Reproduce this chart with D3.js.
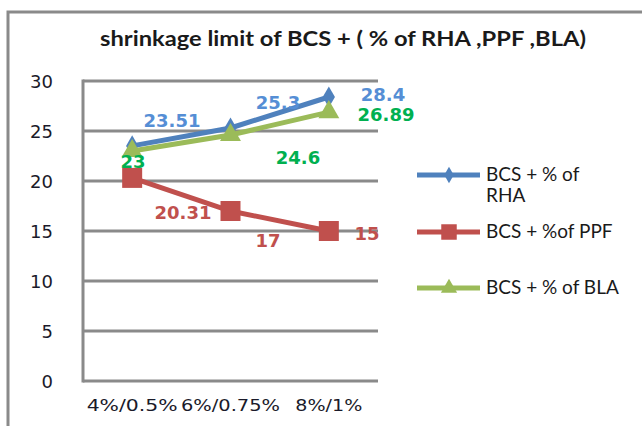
<!DOCTYPE html>
<html>
<head>
<meta charset="utf-8">
<script src="https://cdn.jsdelivr.net/npm/d3@7"></script>
<style>
  body { margin: 0; background: #fff; }
  svg { display: block; }
</style>
</head>
<body>
<svg id="chart" width="642" height="426"></svg>
<script>
// chart data
var categories = ["4%/0.5%", "6%/0.75%", "8%/1%"];
var rhaValues = [23.51, 25.3, 28.4];
var ppfValues = [20.31, 17, 15];
var blaValues = [23, 24.6, 26.89];
var yTicks = [0, 5, 10, 15, 20, 25, 30];
var seriesNames = ["BCS + % of|RHA", "BCS + %of PPF", "BCS + % of BLA"];

var svg = d3.select("#chart");

// outer frame (cut by the picture on right and bottom)
svg.append("rect")
    .attr("x", 8).attr("y", 12)
    .attr("width", 700).attr("height", 500)
    .attr("fill", "none").attr("stroke", "#8a8a8a").attr("stroke-width", 3);

svg.append("text")
    .attr("x", 100).attr("y", 46)
    .attr("textLength", 486)
    .attr("lengthAdjust", "spacingAndGlyphs")
    .attr("font-family", "Lato, sans-serif")
    .attr("font-weight", "bold")
    .attr("font-size", 20)
    .attr("fill", "#1a1a1a")
    .text("shrinkage limit of BCS + ( % of RHA ,PPF ,BLA)");

var x = d3.scaleBand().domain(categories).range([83, 378]);
var y = d3.scaleLinear().domain([0, 30]).range([381, 81]);

// gridlines
svg.append("g").selectAll("line")
    .data(yTicks)
    .enter().append("line")
    .attr("x1", 83).attr("x2", 378)
    .attr("y1", d => y(d)).attr("y2", d => y(d))
    .attr("stroke", "#8a8a8a").attr("stroke-width", 3);

svg.append("line")
    .attr("x1", 83).attr("x2", 83)
    .attr("y1", y(30) - 1.5).attr("y2", y(0) + 1.5)
    .attr("stroke", "#8a8a8a").attr("stroke-width", 3);

// y tick labels
svg.append("g").selectAll("text")
    .data(yTicks)
    .enter().append("text")
    .attr("x", 53).attr("y", d => y(d) + 7)
    .attr("text-anchor", "end")
    .attr("font-family", "DejaVu Sans, sans-serif")
    .attr("font-size", 18)
    .attr("fill", "#1a1a2a")
    .text(d => d);

// x tick labels (stretched wide like the original)
var xLabelWidths = [91, 99, 67];
svg.append("g").selectAll("text")
    .data(categories)
    .enter().append("text")
    .attr("x", d => x(d) + x.bandwidth() / 2)
    .attr("y", 411)
    .attr("text-anchor", "middle")
    .attr("textLength", (d, i) => xLabelWidths[i])
    .attr("lengthAdjust", "spacingAndGlyphs")
    .attr("font-family", "DejaVu Sans, sans-serif")
    .attr("font-size", 15)
    .attr("fill", "#1a1a2a")
    .text(d => d);

var cx = d => x(d) + x.bandwidth() / 2;

var series = [
    {values: rhaValues, color: "#4f81bd", labelColor: "#558ed5", marker: "diamond",
     labelPos: [[172, 120], [278, 102], [383, 94]]},
    {values: ppfValues, color: "#c0504d", labelColor: "#c0504d", marker: "square",
     labelPos: [[183, 212], [268, 240], [367, 233]]},
    {values: blaValues, color: "#9bbb59", labelColor: "#00b050", marker: "triangle",
     labelPos: [[133, 161], [298, 157], [386, 114]]}
];

var symbolTypes = {diamond: d3.symbolDiamond, square: d3.symbolSquare, triangle: d3.symbolTriangle};
var symbolSizes = {diamond: 130, square: 400, triangle: 190};

var line = d3.line()
    .x((d, i) => cx(categories[i]))
    .y(d => y(d));

series.forEach(function (s) {
    svg.append("path")
        .attr("d", line(s.values))
        .attr("fill", "none")
        .attr("stroke", s.color)
        .attr("stroke-width", 5);

    svg.append("g").selectAll("path")
        .data(s.values)
        .enter().append("path")
        .attr("transform", (d, i) => "translate(" + cx(categories[i]) + "," + y(d) + ")")
        .attr("d", d3.symbol().type(symbolTypes[s.marker]).size(symbolSizes[s.marker]))
        .attr("fill", s.color);
});

// data labels drawn on top
series.forEach(function (s) {
    svg.append("g").selectAll("text")
        .data(s.values)
        .enter().append("text")
        .attr("x", (d, i) => s.labelPos[i][0])
        .attr("y", (d, i) => s.labelPos[i][1] + 7)
        .attr("text-anchor", "middle")
        .attr("font-family", "DejaVu Sans, sans-serif")
        .attr("font-weight", "bold")
        .attr("font-size", 18)
        .attr("fill", s.labelColor)
        .text(d => d);
});

// legend
var legendY = [175, 232, 288];
series.forEach(function (s, i) {
    var g = svg.append("g");
    g.append("line")
        .attr("x1", 417).attr("x2", 480)
        .attr("y1", legendY[i]).attr("y2", legendY[i])
        .attr("stroke", s.color).attr("stroke-width", 5);
    g.append("path")
        .attr("transform", "translate(449," + legendY[i] + ")")
        .attr("d", d3.symbol().type(symbolTypes[s.marker]).size(symbolSizes[s.marker] * 0.6))
        .attr("fill", s.color);
    var parts = seriesNames[i].split("|");
    g.selectAll("text")
        .data(parts)
        .enter().append("text")
        .attr("x", 486)
        .attr("y", (d, j) => legendY[i] + 6 + j * 21)
        .attr("font-family", "Lato, sans-serif")
        .attr("font-size", 19)
        .attr("fill", "#1a1a1a")
        .text(d => d);
});
</script>
</body>
</html>
